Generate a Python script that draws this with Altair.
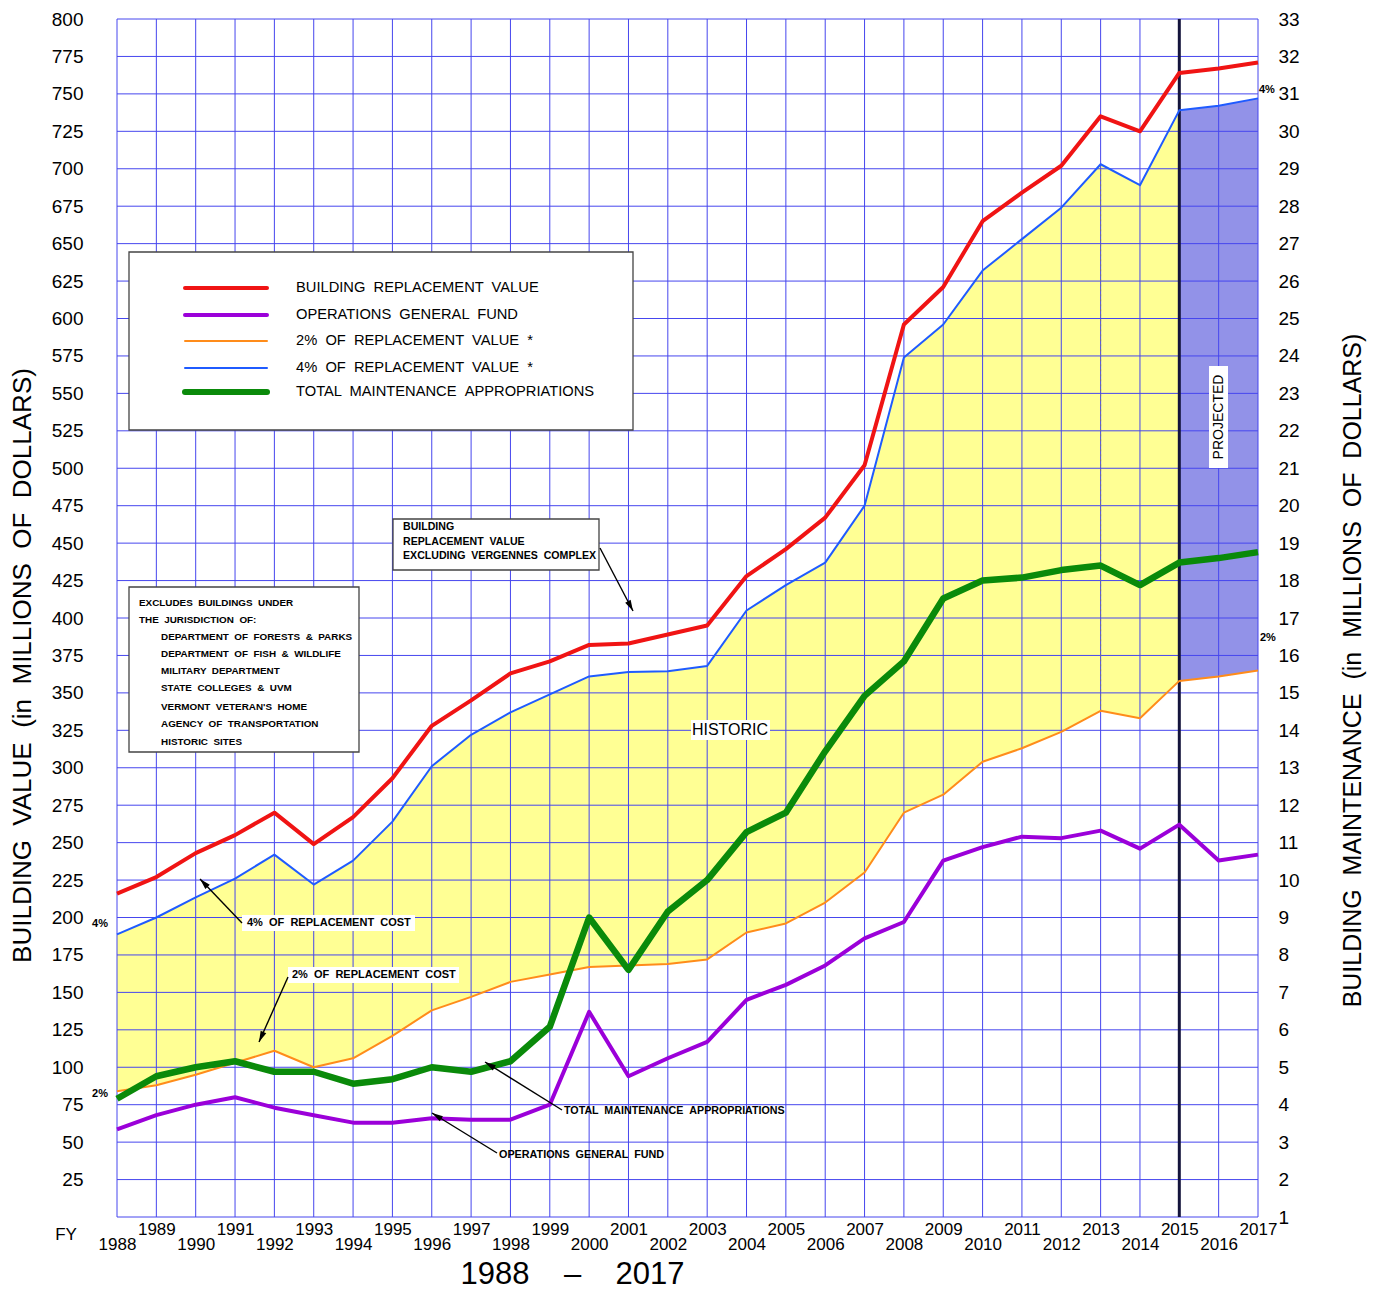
import math
import altair as alt
import pandas as pd

# ---------------- data ----------------
years = list(range(1988, 2018))
replacement_value = [216, 227, 243, 255, 270, 249, 267, 293, 328, 345,
                     363, 371, 382, 383, 389, 395, 428, 446, 467, 502,
                     596, 621, 665, 684, 702, 735, 725, 764, 767, 771]
four_percent = [188.7, 200, 213.5, 226, 242, 222, 238, 264, 301, 322,
                337, 349, 361, 364, 364.5, 368, 405, 422, 437, 475,
                574, 596, 632, 653, 674, 703, 689, 739, 742, 747]
two_percent = [84, 88, 95, 103, 111, 100, 106, 121, 138, 147,
               157, 162, 167, 168, 169, 172, 190, 196, 210, 230,
               270, 282, 304, 313, 324, 338, 333, 358, 361, 365]
total_maintenance = [79, 94, 100, 104, 97, 97, 89, 92, 100, 97,
                     104, 127, 200, 165, 204, 225, 257, 270, 311, 348,
                     371, 413, 425, 427, 432, 435, 422, 437, 440, 444]
operations_fund = [58.5, 68, 75, 80, 73, 68, 63, 63, 66, 65,
                   65, 75, 137, 94, 106, 117, 145, 155, 168, 186,
                   197, 238, 247, 254, 253, 258, 246, 262, 238, 242]

projected_start = 2015
dotted_year = 2013
left_ticks = list(range(25, 801, 25))
grid_levels = list(range(0, 801, 25))

legend_labels = ["BUILDING  REPLACEMENT  VALUE", "OPERATIONS  GENERAL  FUND",
                 "2%  OF  REPLACEMENT  VALUE  *", "4%  OF  REPLACEMENT  VALUE  *",
                 "TOTAL  MAINTENANCE  APPROPRIATIONS"]
exclusion_lines = ["EXCLUDES  BUILDINGS  UNDER", "THE  JURISDICTION  OF:",
                   "DEPARTMENT  OF  FORESTS  &  PARKS", "DEPARTMENT  OF  FISH  &  WILDLIFE",
                   "MILITARY  DEPARTMENT", "STATE  COLLEGES  &  UVM",
                   "VERMONT  VETERAN'S  HOME", "AGENCY  OF  TRANSPORTATION",
                   "HISTORIC  SITES"]
vergennes_lines = ["BUILDING", "REPLACEMENT  VALUE", "EXCLUDING  VERGENNES  COMPLEX"]

# ---------------- styles ----------------
RED, PURPLE, ORANGE, BLUE, GREEN = "#f01414", "#9b00d9", "#ff8c1a", "#1f5bff", "#0a8a0a"
GRID, YELLOW, PROJ, NAVY = "#4646ee", "#ffff94", "#9292e8", "#14143c"
legend_colors = [RED, PURPLE, ORANGE, BLUE, GREEN]
legend_widths = [4, 4, 2, 2, 6]
FONT = "Liberation Sans"
PW, PH = 1141, 1198
TOP = 11


def sp(s):
    return s.replace("  ", " \u00a0")


df = pd.DataFrame({"year": years, "rv": replacement_value, "p4": four_percent,
                   "p2": two_percent, "tm": total_maintenance, "of": operations_fund})
hist = df[df.year <= projected_start]
proj = df[df.year >= projected_start]
one = pd.DataFrame({"k": [0]})

xs = alt.Scale(domain=[1988, 2017], nice=False, zero=False)
ys = alt.Scale(domain=[0, 800], nice=False, zero=False)

x_axis = alt.Axis(values=years, format="d", grid=False, ticks=False, domain=False,
                  labelFont=FONT, labelFontSize=17, labelColor="black", labelFlush=False,
                  labelOverlap=False,
                  labelPadding={"condition": {"test": "datum.value % 2 == 1", "value": 4},
                                "value": 19},
                  title=sp("1988    \u2013    2017"), titleFont=FONT, titleFontSize=31,
                  titleFontWeight="normal", titleColor="black", titleX=455, titleY=57,
                  titleAlign="center", titleBaseline="middle")
y_axis = alt.Axis(values=left_ticks, grid=False, ticks=False, domain=False,
                  labelFont=FONT, labelFontSize=19, labelColor="black", labelPadding=34,
                  labelFlush=False, labelOverlap=False,
                  title=sp("BUILDING  VALUE  (in  MILLIONS  OF  DOLLARS)"), titleFont=FONT,
                  titleFontSize=26, titleFontWeight="normal", titleColor="black",
                  titleAngle=270, titleX=-95, titleY=646, titleAlign="center",
                  titleBaseline="middle")
right_axis = alt.Axis(orient="right", values=grid_levels, grid=False, ticks=False, domain=False,
                      labelExpr="format(datum.value / 25 + 1, 'd')",
                      labelFont=FONT, labelFontSize=19, labelColor="black", labelPadding=20,
                      labelFlush=False, labelOverlap=False,
                      title=sp("BUILDING  MAINTENANCE  (in  MILLIONS  OF  DOLLARS)"),
                      titleFont=FONT, titleFontSize=25, titleFontWeight="normal",
                      titleColor="black", titleAngle=270, titleX=94, titleY=651,
                      titleAlign="center", titleBaseline="middle")


def X(field="year"):
    return alt.X(f"{field}:Q", scale=xs, axis=x_axis)


def Y(field):
    return alt.Y(f"{field}:Q", scale=ys, axis=y_axis)


layers = []
# filled bands
layers.append(alt.Chart(hist).mark_area(color=YELLOW, opacity=1).encode(
    x=X(), y=Y("p2"), y2=alt.Y2("p4:Q")))
layers.append(alt.Chart(proj).mark_area(color=PROJ, opacity=1).encode(
    x=X(), y=Y("p2"), y2=alt.Y2("p4:Q")))
# grid
layers.append(alt.Chart(pd.DataFrame({"year": years})).mark_rule(
    color=GRID, strokeWidth=1).encode(x=X(), y=alt.value(0), y2=alt.value(PH)))
layers.append(alt.Chart(pd.DataFrame({"lvl": grid_levels})).mark_rule(
    color=GRID, strokeWidth=1).encode(y=Y("lvl"), x=alt.value(0), x2=alt.value(PW)))
# dotted 2013 line and 2015 divider
layers.append(alt.Chart(df[df.year == dotted_year]).mark_rule(
    color="#777777", strokeDash=[2, 3], strokeWidth=1).encode(x=X(), y=Y("p4"), y2=alt.Y2("p2:Q")))
layers.append(alt.Chart(pd.DataFrame({"year": [projected_start]})).mark_rule(
    color=NAVY, strokeWidth=3).encode(x=X(), y=alt.value(0), y2=alt.value(PH)))
# series lines
for field, color, width in [("p2", ORANGE, 2), ("p4", BLUE, 2), ("of", PURPLE, 4),
                            ("rv", RED, 4), ("tm", GREEN, 6.5)]:
    layers.append(alt.Chart(df).mark_line(color=color, strokeWidth=width,
                                          strokeJoin="round").encode(x=X(), y=Y(field)))


# ---------------- annotations (pixel offsets from the plot's top-left) ----------------
def text_layer(s, x, y, size, weight="normal", align="left", angle=0):
    kw = dict(text=sp(s), align=align, baseline="middle", fontSize=size,
              fontWeight=weight, font=FONT, color="black")
    if angle:
        kw["angle"] = angle
    return alt.Chart(one).mark_text(**kw).encode(x=alt.value(x), y=alt.value(y - (TOP - 8)))


def box_layer(x1, y1, x2, y2, stroke=True):
    kw = dict(fill="white", opacity=1)
    if stroke:
        kw.update(stroke="#444444", strokeWidth=1.3)
    d = TOP - 8
    return alt.Chart(one).mark_rect(**kw).encode(
        x=alt.value(x1), x2=alt.value(x2), y=alt.value(y1 - d), y2=alt.value(y2 - d))


def arrow_layers(x1, y1, x2, y2):
    d = TOP - 8
    ang = math.degrees(math.atan2(x2 - x1, -(y2 - y1))) % 360
    line = alt.Chart(one).mark_rule(color="black", strokeWidth=1.4).encode(
        x=alt.value(x1), y=alt.value(y1 - d), x2=alt.value(x2), y2=alt.value(y2 - d))
    head = alt.Chart(one).mark_point(shape="M0,0L-0.28,1L0.28,1Z", filled=True,
                                     color="black", opacity=1, size=480, angle=ang).encode(
        x=alt.value(x2), y=alt.value(y2 - d))
    return [line, head]


# legend box
layers.append(box_layer(12, 236, 516, 414))
legend_rows = [272, 299, 325, 352, 376]
for lab, col, w, ry in zip(legend_labels, legend_colors, legend_widths, legend_rows):
    layers.append(alt.Chart(one).mark_rule(color=col, strokeWidth=w, strokeCap="round").encode(
        x=alt.value(68), x2=alt.value(150), y=alt.value(ry - (TOP - 8)),
        y2=alt.value(ry - (TOP - 8))))
    layers.append(text_layer(lab, 179, ry, 14.7))

# exclusion box
layers.append(box_layer(12, 571, 242, 736))
excl_rows = [587, 604, 621, 638, 655, 672, 691, 708, 726]
for i, (line, ry) in enumerate(zip(exclusion_lines, excl_rows)):
    layers.append(text_layer(line, 22 if i < 2 else 44, ry, 9.9, "bold"))

# vergennes box + arrow
layers.append(box_layer(276, 503, 482, 554))
for line, ry in zip(vergennes_lines, [511, 526, 540]):
    layers.append(text_layer(line, 286, ry, 10.6, "bold"))
layers += arrow_layers(483, 532, 516, 595)

# 4% / 2% replacement cost labels
layers.append(box_layer(125, 899, 298, 915, stroke=False))
layers.append(text_layer("4%  OF  REPLACEMENT  COST", 130, 907, 11, "bold"))
layers += arrow_layers(125, 907, 83, 863)
layers.append(box_layer(171, 951, 342, 967, stroke=False))
layers.append(text_layer("2%  OF  REPLACEMENT  COST", 175, 959, 11, "bold"))
layers += arrow_layers(171, 961, 142, 1026)

# maintenance / operations labels
layers.append(text_layer("TOTAL  MAINTENANCE  APPROPRIATIONS", 447, 1095, 10.7, "bold"))
layers += arrow_layers(445, 1094, 368, 1046)
layers.append(text_layer("OPERATIONS  GENERAL  FUND", 382, 1139, 10.8, "bold"))
layers += arrow_layers(380, 1137, 315, 1097)

# HISTORIC / PROJECTED
layers.append(box_layer(574, 704, 653, 724, stroke=False))
layers.append(text_layer("HISTORIC", 613, 714, 16, align="center"))
layers.append(box_layer(1092, 350, 1111, 452, stroke=False))
layers.append(text_layer("PROJECTED", 1102, 401, 14, align="center", angle=270))

# percent markers and FY
layers.append(text_layer("4%", 1142, 74, 11, "bold"))
layers.append(text_layer("2%", 1143, 622, 11, "bold"))
layers.append(text_layer("4%", -9, 908, 11, "bold", align="right"))
layers.append(text_layer("2%", -9, 1078, 11, "bold", align="right"))
layers.append(text_layer("FY", -51, 1219, 17, align="center"))

main = alt.layer(*layers)

right = alt.Chart(pd.DataFrame({"lvl": grid_levels})).mark_point(opacity=0).encode(
    y=alt.Y("lvl:Q", scale=alt.Scale(domain=[0, 800], nice=False, zero=False), axis=right_axis))

chart = alt.layer(main, right).resolve_scale(y="independent").properties(
    width=PW, height=PH,
    autosize=alt.AutoSizeParams(type="none"),
    padding={"left": 109, "top": TOP, "right": 110, "bottom": 74},
    background="white",
).configure_view(strokeWidth=0)

chart.save("out.html", embed_options={"renderer": "svg", "actions": False})
